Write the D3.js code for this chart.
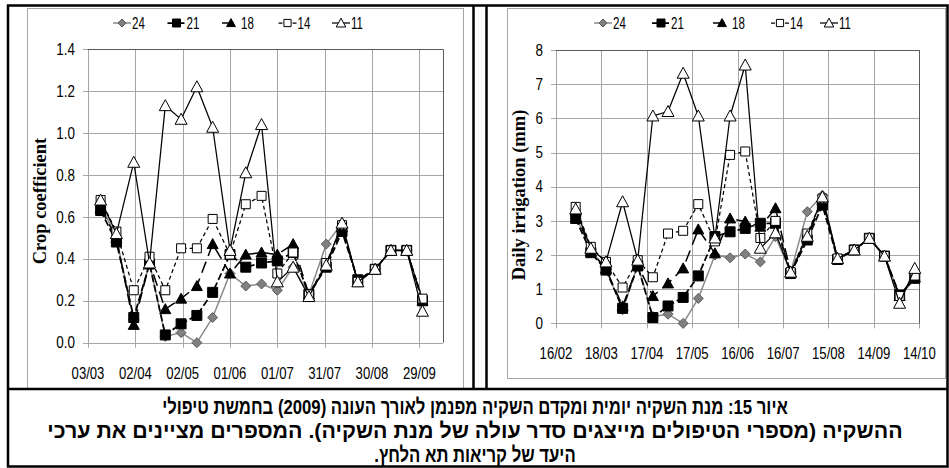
<!DOCTYPE html>
<html><head><meta charset="utf-8">
<script src="https://cdn.jsdelivr.net/npm/d3@7"></script>
<style>body{margin:0;background:#fff}svg{display:block}</style>
</head><body><svg id="c" width="949" height="468"></svg>
<script>
// ---------------- DATA ----------------
const dates = ["2009-03-01","2009-03-11","2009-03-21","2009-04-01","2009-04-11","2009-04-21",
  "2009-05-01","2009-05-11","2009-05-21","2009-06-01","2009-06-11","2009-06-21","2009-07-01",
  "2009-07-11","2009-07-21","2009-08-01","2009-08-11","2009-08-21","2009-09-01","2009-09-11",
  "2009-09-21","2009-10-01","2009-10-11"];
// Daily irrigation (mm) – all 23 dates
const irr24 = [3.15,2.15,1.6,0.4,1.7,0.2,0.27,0.0,0.73,2.0,1.92,2.03,1.8,2.54,1.5,3.27,3.75,1.9,2.15,2.49,1.97,0.8,1.3];
const irr21 = [3.07,2.07,1.56,0.44,1.68,0.17,0.51,0.76,1.39,2.54,2.68,2.78,2.93,2.93,1.46,2.44,3.46,1.87,2.15,2.49,1.97,0.83,1.32];
const irr18 = [3.3,2.1,1.6,0.5,1.7,0.8,1.17,1.61,2.75,2.05,3.07,2.98,2.83,3.37,1.5,2.5,3.6,1.9,2.15,2.49,1.97,0.8,1.35];
const irr14 = [3.41,2.24,1.8,1.05,1.85,1.35,2.63,2.71,3.49,2.4,4.93,5.03,2.5,3.0,1.5,2.63,3.65,1.9,2.15,2.49,1.97,0.8,1.4];
const irr11 = [3.35,2.2,1.8,3.56,1.85,6.07,6.2,7.32,6.07,2.5,6.07,7.56,2.2,2.65,1.5,2.55,3.7,1.9,2.15,2.49,1.97,0.59,1.61];
// Crop coefficient – dates[1] .. dates[21]
const kc24 = [0.66,0.50,0.11,0.38,0.03,0.048,0.0,0.12,0.33,0.27,0.28,0.25,0.36,0.23,0.47,0.57,0.29,0.35,0.44,0.44,0.20];
const kc21 = [0.63,0.48,0.12,0.375,0.037,0.09,0.13,0.24,0.42,0.36,0.38,0.39,0.43,0.23,0.36,0.53,0.30,0.35,0.44,0.44,0.20];
const kc18 = [0.64,0.50,0.085,0.38,0.16,0.21,0.27,0.47,0.33,0.42,0.43,0.42,0.47,0.23,0.37,0.55,0.29,0.35,0.44,0.44,0.20];
const kc14 = [0.68,0.53,0.25,0.41,0.25,0.45,0.45,0.59,0.42,0.66,0.70,0.33,0.43,0.23,0.38,0.56,0.29,0.35,0.44,0.44,0.21];
const kc11 = [0.68,0.52,0.86,0.38,1.13,1.065,1.22,1.027,0.44,0.81,1.04,0.29,0.36,0.22,0.37,0.57,0.29,0.35,0.44,0.44,0.15];
const seriesNames = ["24","21","18","14","11"];
const kcXTicks = ["03/03","02/04","02/05","01/06","01/07","31/07","30/08","29/09"];
const kcXMax = "14/10";
const kcYTicks = [0,0.2,0.4,0.6,0.8,1.0,1.2,1.4];
const irrXTicks = ["16/02","18/03","17/04","17/05","16/06","16/07","15/08","14/09","14/10"];
const irrYTicks = [0,1,2,3,4,5,6,7,8];
const kcTitle = "Crop coefficient";
const irrTitle = "Daily irrigation (mm)";
const caption = [
  "איור 15: מנת השקיה יומית ומקדם השקיה מפנמן לאורך העונה (2009) בחמשת טיפולי",
  "ההשקיה (מספרי הטיפולים מייצגים סדר עולה של מנת השקיה). המספרים מציינים את ערכי",
  "היעד של קריאות תא הלחץ."
];

// ---------------- STYLE ----------------
const parseD = d3.timeParse("%Y-%m-%d");
const parseTick = s => parseD("2009-" + s.slice(3,5) + "-" + s.slice(0,2));
const D = dates.map(parseD);
const styles = {
  "24": {m:"diamond", fill:"#808080", stroke:"#5a5a5a", line:"#8a8a8a", dash:null, lw:1.5},
  "21": {m:"square", fill:"#000", stroke:"#000", line:"#000", dash:"7,3", lw:1.75},
  "18": {m:"triangle", fill:"#000", stroke:"#000", line:"#000", dash:"12,6", lw:1.5},
  "14": {m:"osquare", fill:"#fff", stroke:"#000", line:"#000", dash:"4,3", lw:1.25},
  "11": {m:"otriangle", fill:"#fff", stroke:"#000", line:"#000", dash:null, lw:1.25}
};
function markerPath(t, k) {
  k = k || 1;
  switch (t) {
    case "diamond": return `M0,${-5*k}L${5*k},0L0,${5*k}L${-5*k},0Z`;
    case "square": return `M${-5*k},${-5*k}h${10*k}v${10*k}h${-10*k}Z`;
    case "osquare": return `M${-4.5*k},${-4.5*k}h${9*k}v${9*k}h${-9*k}Z`;
    case "triangle": return `M0,${-5.5*k}L${5.5*k},${4.5*k}L${-5.5*k},${4.5*k}Z`;
    case "otriangle": return `M0,${-6*k}L${6*k},${5*k}L${-6*k},${5*k}Z`;
  }
}
const svg = d3.select("#c");
const SANS = "Liberation Sans, Arial, sans-serif";

function scaledText(g, x, y, str, opts) {
  return g.append("text")
    .attr("transform", `translate(${x},${y}) scale(${opts.sx||1},1)`)
    .attr("text-anchor", opts.anchor || "middle")
    .attr("font-family", opts.family || SANS)
    .attr("font-size", opts.size || 16)
    .attr("font-weight", opts.weight || "normal")
    .attr("fill", opts.fill || "#000")
    .text(str);
}

function panel(cfg) {
  const g = svg.append("g");
  g.append("rect").attr("x", cfg.box[0]+0.5).attr("y", cfg.box[1]+0.5)
    .attr("width", cfg.box[2]-cfg.box[0]).attr("height", cfg.box[3]-cfg.box[1])
    .attr("fill", "#fff").attr("stroke", "#a6a6a6").attr("stroke-width", 1);
  const x = d3.scaleTime().domain(cfg.xDomain).range([cfg.plot[0], cfg.plot[2]]);
  const y = d3.scaleLinear().domain([cfg.yTicks[0], cfg.yTicks[cfg.yTicks.length-1]]).range([cfg.plot[3], cfg.plot[1]]);
  const xt = cfg.xTicks.map(parseTick);
  const grid = g.append("g").attr("stroke", "#a6a6a6").attr("stroke-width", 1);
  grid.selectAll(".v").data(xt).join("line")
    .attr("x1", d => Math.round(x(d))+0.5).attr("x2", d => Math.round(x(d))+0.5)
    .attr("y1", cfg.plot[1]).attr("y2", cfg.plot[3] + 5);
  grid.selectAll(".h").data(cfg.yTicks).join("line")
    .attr("x1", cfg.plot[0] - 5).attr("x2", cfg.plot[2])
    .attr("y1", d => Math.round(y(d))+0.5).attr("y2", d => Math.round(y(d))+0.5);
  g.append("path").attr("fill", "none").attr("stroke", "#5a5a5a").attr("stroke-width", 1)
    .attr("d", `M${cfg.plot[0]},${Math.round(cfg.plot[1])+0.5}H${Math.round(cfg.plot[2])+0.5}V${cfg.plot[3]}`);
  cfg.yTicks.forEach(v => scaledText(g, cfg.plot[0]-13, y(v)+5.7, cfg.yFmt(v), {anchor:"end", size:16, sx:0.84}));
  xt.forEach((d,i) => scaledText(g, x(d), cfg.plot[3]+36, cfg.xTicks[i], {size:16, sx:0.82}));
  g.append("text")
    .attr("transform", `translate(${cfg.titleX},${(cfg.titleY)}) rotate(-90)`)
    .attr("text-anchor", "middle").attr("font-family", "Liberation Serif, Times New Roman, serif")
    .attr("font-weight", "bold").attr("font-size", 18.5).text(cfg.title);
  const line = d3.line().x(d => x(d.d)).y(d => y(d.v));
  cfg.series.forEach(s => {
    const st = styles[s.name];
    const pts = s.values.map((v,i) => ({d: cfg.dates[i], v}));
    g.append("path").datum(pts).attr("d", line).attr("fill", "none")
      .attr("stroke", st.line).attr("stroke-width", st.lw)
      .attr("stroke-dasharray", st.dash).attr("stroke-linejoin", "round");
    g.selectAll(null).data(pts).join("path")
      .attr("transform", d => `translate(${x(d.d)},${y(d.v)})`)
      .attr("d", markerPath(st.m)).attr("fill", st.fill)
      .attr("stroke", st.stroke).attr("stroke-width", 1);
  });
  seriesNames.forEach((n,i) => {
    const st = styles[n];
    const mx = cfg.legendX[i], my = cfg.legendY;
    g.append("line").attr("x1", mx-9).attr("x2", mx+9).attr("y1", my).attr("y2", my)
      .attr("stroke", st.line).attr("stroke-width", st.lw).attr("stroke-dasharray", st.dash);
    g.append("path").attr("transform", `translate(${mx},${my})`).attr("d", markerPath(st.m, 0.8))
      .attr("fill", st.fill).attr("stroke", st.stroke).attr("stroke-width", 1);
    scaledText(g, mx+10, my+6, n, {anchor:"start", size:16, sx:0.72});
  });
}

panel({
  box:[27,8,463,388], plot:[88,49,443,342.7],
  xDomain:[parseTick(kcXTicks[0]), parseTick(kcXMax)],
  xTicks:kcXTicks, yTicks:kcYTicks, yFmt:d3.format(".1f"),
  title:kcTitle, titleX:46, titleY:201,
  dates:D.slice(1,22),
  series:[{name:"24",values:kc24},{name:"21",values:kc21},{name:"18",values:kc18},{name:"14",values:kc14},{name:"11",values:kc11}],
  legendX:[122,176.5,231,287.5,341], legendY:23
});
panel({
  box:[507,8,945,378], plot:[556,50,919.3,323.4],
  xDomain:[parseTick(irrXTicks[0]), parseTick(irrXTicks[irrXTicks.length-1])],
  xTicks:irrXTicks, yTicks:irrYTicks, yFmt:d3.format("d"),
  title:irrTitle, titleX:524.5, titleY:195,
  dates:D,
  series:[{name:"24",values:irr24},{name:"21",values:irr21},{name:"18",values:irr18},{name:"14",values:irr14},{name:"11",values:irr11}],
  legendX:[603,661,722,780,829], legendY:23
});

// frames
const fr = svg.append("g").attr("fill","none").attr("stroke","#000");
fr.append("rect").attr("x",8).attr("y",5.5).attr("width",939.5).attr("height",461).attr("stroke-width",2.5);
fr.append("line").attr("x1",8).attr("x2",947.5).attr("y1",389).attr("y2",389).attr("stroke-width",2.5);
fr.append("line").attr("x1",473.5).attr("x2",473.5).attr("y1",5.5).attr("y2",389).attr("stroke-width",2.5);
fr.append("line").attr("x1",486.5).attr("x2",486.5).attr("y1",5.5).attr("y2",389).attr("stroke-width",2.5);

// caption
const cap = svg.append("g");
const capY = [414, 438, 462];
const capW = [626, 856];
const capNodes = caption.map((t,i) => cap.append("text")
  .attr("text-anchor","middle")
  .attr("direction","rtl").attr("unicode-bidi","embed")
  .attr("font-family", SANS).attr("font-weight","bold").attr("font-size", 21)
  .text(t));
const nat = capNodes.map(n => n.node().getComputedTextLength());
const r1 = capW[0] / nat[0], r2 = capW[1] / nat[1];
const sxs = [r1, r2, r1];
capNodes.forEach((n,i) => n.attr("transform", `translate(475,${capY[i]}) scale(${sxs[i]},1)`));
</script></body></html>
